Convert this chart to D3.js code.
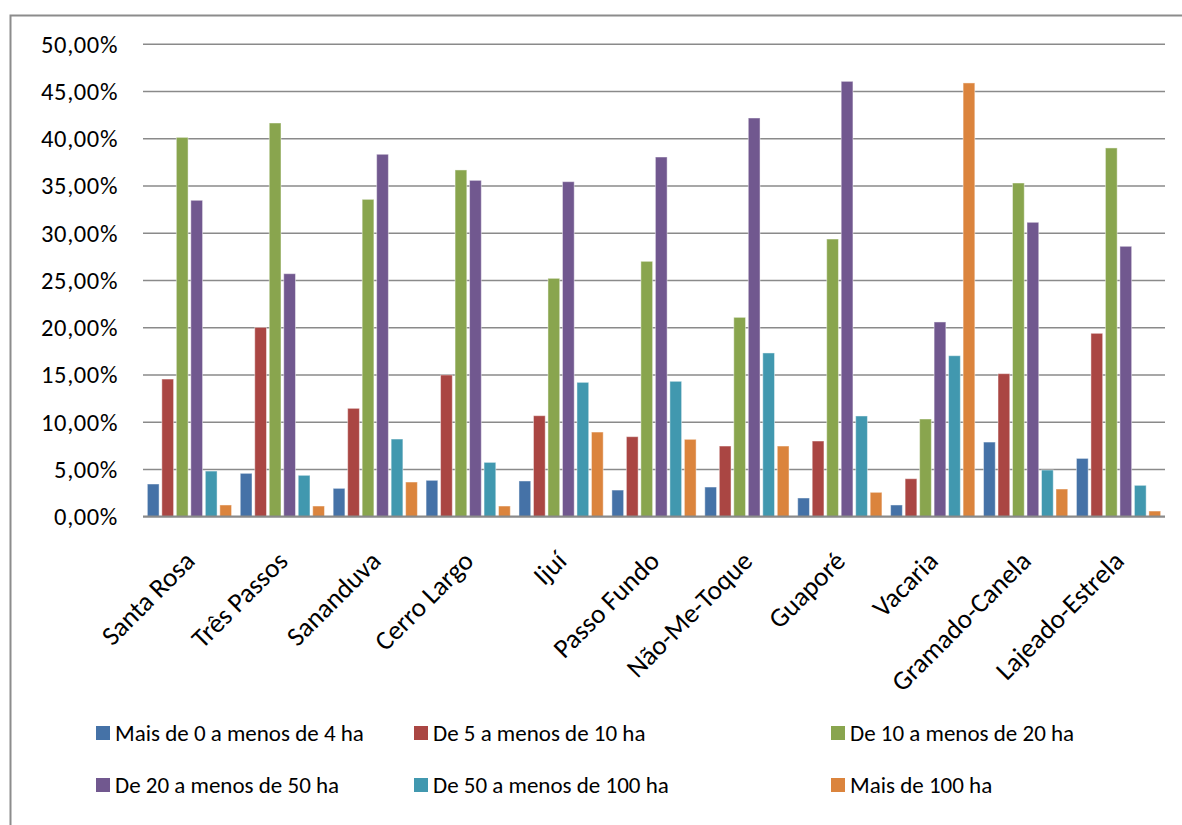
<!DOCTYPE html>
<html>
<head>
<meta charset="utf-8">
<script src="https://cdn.jsdelivr.net/npm/d3@7"></script>
<style>
  html, body { margin: 0; padding: 0; background: #fff; }
  svg { display: block; font-family: Carlito, Calibri, "Open Sans", sans-serif; }
</style>
</head>
<body>
<svg id="chart" width="1182" height="825"></svg>
<script>
// Microrregiões
const categories = ["Santa Rosa", "Três Passos", "Sananduva", "Cerro Largo", "Ijuí",
  "Passo Fundo", "Não-Me-Toque", "Guaporé", "Vacaria", "Gramado-Canela", "Lajeado-Estrela"];

// Estratos de área
const seriesNames = ["Mais de 0 a menos de 4 ha", "De 5 a menos de 10 ha", "De 10 a menos de 20 ha",
  "De 20 a menos de 50 ha", "De 50 a menos de 100 ha", "Mais de 100 ha"];

// Percentuais por estrato (uma lista por série, na ordem das microrregiões)
const mais0a4   = [3.46, 4.59, 3.00, 3.85, 3.78, 2.82, 3.14, 1.98, 1.24, 7.90, 6.17];
const de5a10    = [14.57, 20.04, 11.47, 15.00, 10.69, 8.47, 7.48, 8.01, 4.02, 15.14, 19.41];
const de10a20   = [40.15, 41.67, 33.59, 36.70, 25.23, 27.03, 21.10, 29.39, 10.34, 35.32, 39.03];
const de20a50   = [33.49, 25.72, 38.36, 35.60, 35.46, 38.07, 42.20, 46.08, 20.61, 31.16, 28.62];
const de50a100  = [4.83, 4.38, 8.22, 5.75, 14.22, 14.33, 17.33, 10.66, 17.04, 4.94, 3.32];
const mais100   = [1.24, 1.13, 3.67, 1.13, 8.96, 8.19, 7.48, 2.58, 45.91, 2.93, 0.60];

const yTicks = [0, 5, 10, 15, 20, 25, 30, 35, 40, 45, 50];

const seriesValues = [mais0a4, de5a10, de10a20, de20a50, de50a100, mais100];
const colors = ["#4572A7", "#AA4643", "#89A54E", "#71588F", "#4198AF", "#DB843D"];
const FONT = 'Carlito, Calibri, "Open Sans", sans-serif';

const svg = d3.select("#chart");

// moldura do gráfico
svg.append("rect")
  .attr("x", 10.5).attr("y", 15.5)
  .attr("width", 1200).attr("height", 900)
  .attr("fill", "none").attr("stroke", "#8c8c8c").attr("stroke-width", 2);

const plot = { left: 143, right: 1165, top: 44.3, bottom: 516.7 };

const y = d3.scaleLinear().domain([0, 50]).range([plot.bottom, plot.top]);
const x0 = d3.scaleBand().domain(categories).range([plot.left, plot.right]).padding(0);
const x1 = d3.scaleBand().domain(d3.range(seriesNames.length))
  .range([0, x0.bandwidth()]).paddingInner(0.19).paddingOuter(0.3);

const fmt = v => d3.format(".2f")(v).replace(".", ",") + "%";

// linhas de grade
svg.append("g")
  .selectAll("line")
  .data(yTicks.filter(t => t > 0))
  .join("line")
  .attr("x1", plot.left).attr("x2", plot.right)
  .attr("y1", d => y(d)).attr("y2", d => y(d))
  .attr("stroke", "#8a8a8a").attr("stroke-width", 1.6);

// eixo Y
const yAxis = svg.append("g")
  .attr("transform", `translate(${plot.left},0)`)
  .call(d3.axisLeft(y).tickValues(yTicks).tickFormat(fmt).tickSize(0).tickPadding(25));
yAxis.select(".domain").remove();
yAxis.selectAll("text")
  .attr("font-size", 24.5).attr("fill", "#000")
  .attr("letter-spacing", 0.6)
  .style("font-family", FONT);

// barras
const groups = svg.append("g")
  .selectAll("g")
  .data(categories)
  .join("g")
  .attr("transform", d => `translate(${x0(d)},0)`);

groups.selectAll("rect")
  .data((c, i) => seriesValues.map((vals, s) => ({ s, v: vals[i] })))
  .join("rect")
  .attr("x", d => x1(d.s))
  .attr("width", x1.bandwidth())
  .attr("y", d => y(d.v))
  .attr("height", d => y(0) - y(d.v))
  .attr("fill", d => colors[d.s])
  .attr("stroke", "rgba(255,255,255,0.45)")
  .attr("stroke-width", 1);

// eixo X
const xAxis = svg.append("g")
  .attr("transform", `translate(0,${plot.bottom})`)
  .call(d3.axisBottom(x0).tickSize(0).tickPadding(0));
xAxis.select(".domain")
  .attr("stroke", "#8a8a8a").attr("stroke-width", 2.2)
  .attr("d", `M${plot.left},0H${plot.right}`);
xAxis.selectAll("text")
  .attr("font-size", 27).attr("fill", "#000")
  .style("font-family", FONT)
  .attr("text-anchor", "end")
  .attr("dy", "0")
  .attr("transform", "translate(7,46) rotate(-45)");

// legenda
const legendPos = [
  { x: 96, y: 733 }, { x: 414, y: 733 }, { x: 831, y: 733 },
  { x: 96, y: 785 }, { x: 414, y: 785 }, { x: 831, y: 785 }
];
const legend = svg.append("g")
  .selectAll("g")
  .data(seriesNames)
  .join("g")
  .attr("transform", (d, i) => `translate(${legendPos[i].x},${legendPos[i].y})`);
legend.append("rect")
  .attr("x", 0).attr("y", -7).attr("width", 14).attr("height", 14)
  .attr("fill", (d, i) => colors[i]);
legend.append("text")
  .attr("x", 19).attr("y", 0).attr("dy", "0.36em")
  .attr("font-size", 23).attr("fill", "#000")
  .text(d => d);
</script>
</body>
</html>
